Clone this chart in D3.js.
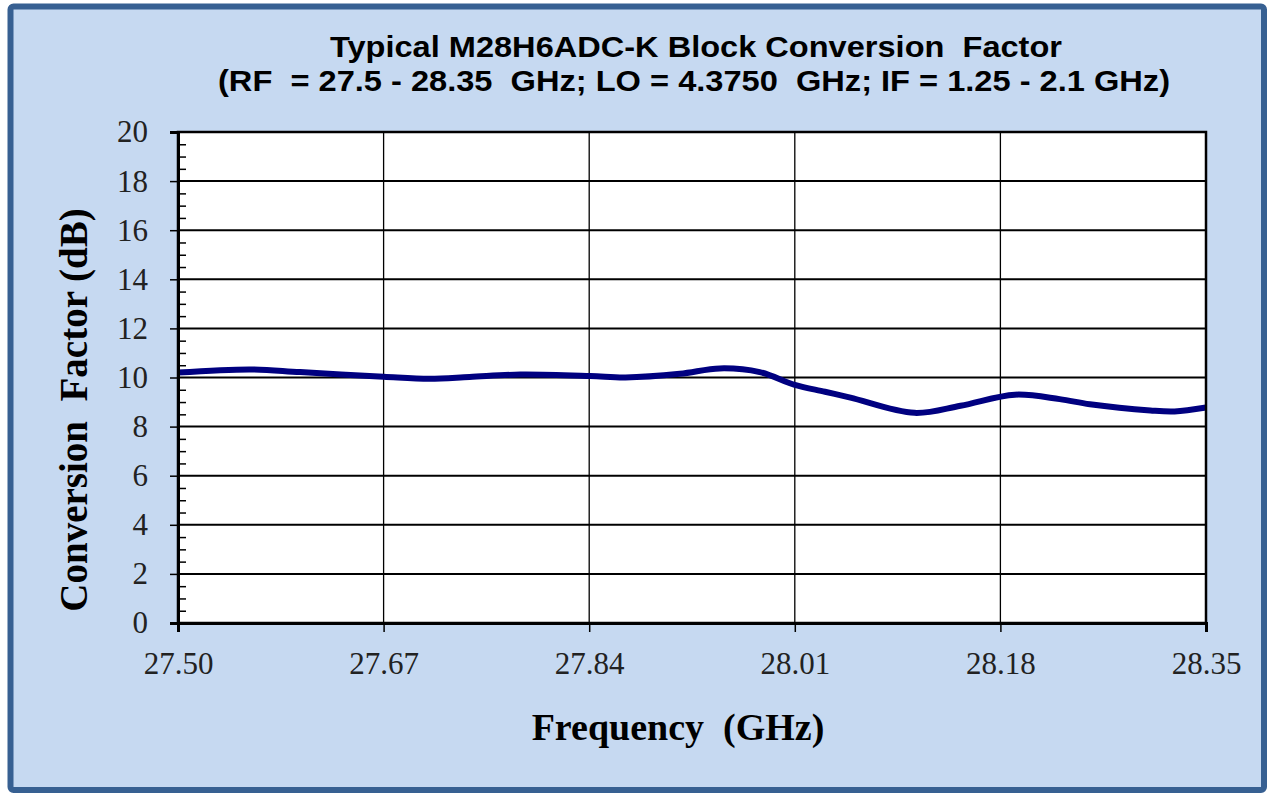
<!DOCTYPE html>
<html>
<head>
<meta charset="utf-8">
<script src="https://cdn.jsdelivr.net/npm/d3@7"></script>
<style>
  body { margin: 0; background: #fff; }
  svg text { white-space: pre; }
</style>
</head>
<body>
<div id="chart"></div>
<script>
// values
var freqGHz = [27.500, 27.560, 27.601, 27.670, 27.708, 27.741, 27.783, 27.841, 27.870, 27.915,
               27.948, 27.981, 28.010, 28.035, 28.056, 28.109, 28.147, 28.192, 28.229, 28.254,
               28.304, 28.324, 28.350];
var conversionDb = [10.20, 10.33, 10.22, 10.03, 9.95, 10.02, 10.12, 10.06, 10.00, 10.15,
                    10.37, 10.22, 9.70, 9.42, 9.18, 8.56, 8.85, 9.30, 9.12, 8.91,
                    8.66, 8.62, 8.78];
var xTickValues = [27.50, 27.67, 27.84, 28.01, 28.18, 28.35];
var yTickValues = [0, 2, 4, 6, 8, 10, 12, 14, 16, 18, 20];
var titleLines = ['Typical M28H6ADC-K Block Conversion  Factor',
                  '(RF  = 27.5 - 28.35  GHz; LO = 4.3750  GHz; IF = 1.25 - 2.1 GHz)'];
var titleWidths = [732, 952];

var width = 1267, height = 793;
var plot = { left: 178, top: 132, right: 1206, bottom: 623 };

var svg = d3.select('#chart').append('svg')
  .attr('width', width)
  .attr('height', height);

// outer panel
svg.append('rect')
  .attr('x', 10.5).attr('y', 6.5)
  .attr('width', 1253.5).attr('height', 783.5)
  .attr('rx', 3)
  .attr('fill', '#c6d9f1')
  .attr('stroke', '#376092')
  .attr('stroke-width', 6);

// title (stretched to the width it has in the original)
svg.selectAll('.title')
  .data(titleLines)
  .enter()
  .append('text')
    .attr('class', 'title')
    .attr('x', function(d, i){ return i == 0 ? 330 : 218 })
    .attr('y', function(d, i){ return 57 + i * 34 })
    .attr('textLength', function(d, i){ return titleWidths[i] })
    .attr('lengthAdjust', 'spacingAndGlyphs')
    .style('font-family', '"Liberation Sans", Arial, sans-serif')
    .style('font-weight', 'bold')
    .style('font-size', '29px')
    .text(function(d){ return d });

var x = d3.scaleLinear().domain([27.5, 28.35]).range([plot.left, plot.right]);
var y = d3.scaleLinear().domain([0, 20]).range([plot.bottom, plot.top]);

// plot background
svg.append('rect')
  .attr('x', plot.left).attr('y', plot.top)
  .attr('width', plot.right - plot.left)
  .attr('height', plot.bottom - plot.top)
  .attr('fill', '#fff');

// grid lines
svg.append('g')
  .selectAll('line')
  .data(yTickValues.slice(1))
  .enter()
  .append('line')
    .attr('x1', plot.left).attr('x2', plot.right)
    .attr('y1', function(d){ return y(d) })
    .attr('y2', function(d){ return y(d) })
    .attr('stroke', '#000')
    .attr('stroke-width', 2);

svg.append('g')
  .selectAll('line')
  .data(xTickValues.slice(1))
  .enter()
  .append('line')
    .attr('x1', function(d){ return x(d) })
    .attr('x2', function(d){ return x(d) })
    .attr('y1', plot.top).attr('y2', plot.bottom)
    .attr('stroke', '#000')
    .attr('stroke-width', 1.3);

// data line
var line = d3.line()
  .x(function(d){ return x(d[0]) })
  .y(function(d){ return y(d[1]) })
  .curve(d3.curveCatmullRom.alpha(0.5));

svg.append('path')
  .datum(d3.zip(freqGHz, conversionDb))
  .attr('d', line)
  .attr('fill', 'none')
  .attr('stroke', '#000080')
  .attr('stroke-width', 6)
  .attr('stroke-linejoin', 'round');

// plot frame (top / right)
svg.append('rect')
  .attr('x', plot.left).attr('y', plot.top)
  .attr('width', plot.right - plot.left)
  .attr('height', plot.bottom - plot.top)
  .attr('fill', 'none')
  .attr('stroke', '#000')
  .attr('stroke-width', 2.5);

var tickFont = '"Liberation Serif", "Times New Roman", serif';

// y axis: major ticks outside, minor ticks inside
svg.append('g')
  .attr('transform', 'translate(' + plot.left + ',0)')
  .call(d3.axisLeft(y).tickValues(d3.range(0, 20.01, 0.5).filter(function(v){ return v % 2 !== 0 }))
    .tickSize(-8).tickFormat(''))
  .call(function(g){ g.select('.domain').remove() })
  .selectAll('line').attr('stroke-width', 1.5);

svg.append('g')
  .attr('transform', 'translate(' + plot.left + ',0)')
  .call(d3.axisLeft(y).tickValues(yTickValues).tickSize(8).tickPadding(22).tickFormat(d3.format('d')))
  .call(function(g){
    g.select('.domain').attr('stroke-width', 3);
    g.selectAll('line').attr('stroke-width', 1.5);
    g.selectAll('text')
      .style('font-family', tickFont)
      .style('font-size', '31px')
      .attr('fill', '#222');
  });

// x axis
svg.append('g')
  .attr('transform', 'translate(0,' + plot.bottom + ')')
  .call(d3.axisBottom(x).tickValues(xTickValues).tickSize(9).tickPadding(20).tickFormat(d3.format('.2f')))
  .call(function(g){
    g.select('.domain').attr('stroke-width', 3);
    g.selectAll('line').attr('stroke-width', 1.5);
    g.selectAll('text')
      .style('font-family', tickFont)
      .style('font-size', '31px')
      .attr('fill', '#222');
  });

// axis titles
svg.append('text')
  .attr('x', 678)
  .attr('y', 740)
  .attr('text-anchor', 'middle')
  .style('font-family', tickFont)
  .style('font-weight', 'bold')
  .style('font-size', '38px')
  .text('Frequency  (GHz)');

svg.append('text')
  .attr('transform', 'translate(87,410) rotate(-90)')
  .attr('text-anchor', 'middle')
  .style('font-family', tickFont)
  .style('font-weight', 'bold')
  .style('font-size', '39px')
  .text('Conversion  Factor (dB)');
</script>
</body>
</html>
